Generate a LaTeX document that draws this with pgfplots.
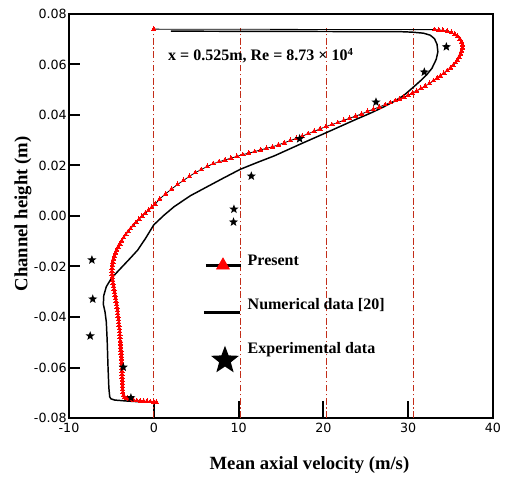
\documentclass[border=0pt]{standalone}
\usepackage{pgfplots}
\pgfplotsset{compat=1.18}
\usepackage{fontspec}
\setmainfont{Liberation Serif}
\newfontfamily\ticksans{DejaVu Sans}
\usetikzlibrary{plotmarks}
\definecolor{gridred}{RGB}{195,45,25}

% filled five-pointed star
\pgfdeclareplotmark{fstar}{%
  \pgfpathmoveto{\pgfpointpolar{90}{\pgfplotmarksize}}%
  \pgfpathlineto{\pgfpointpolar{126}{0.42\pgfplotmarksize}}%
  \pgfpathlineto{\pgfpointpolar{162}{\pgfplotmarksize}}%
  \pgfpathlineto{\pgfpointpolar{198}{0.42\pgfplotmarksize}}%
  \pgfpathlineto{\pgfpointpolar{234}{\pgfplotmarksize}}%
  \pgfpathlineto{\pgfpointpolar{270}{0.42\pgfplotmarksize}}%
  \pgfpathlineto{\pgfpointpolar{306}{\pgfplotmarksize}}%
  \pgfpathlineto{\pgfpointpolar{342}{0.42\pgfplotmarksize}}%
  \pgfpathlineto{\pgfpointpolar{18}{\pgfplotmarksize}}%
  \pgfpathlineto{\pgfpointpolar{54}{0.42\pgfplotmarksize}}%
  \pgfpathclose\pgfusepathqfill}

\begin{document}
\begin{tikzpicture}
\path[use as bounding box] (-51.75pt,-45pt) rectangle (327pt,313.5pt);
\begin{axis}[
  at={(0pt,0pt)}, anchor=south west,
  scale only axis, width=318pt, height=303pt,
  xmin=-10, xmax=40, ymin=-0.08, ymax=0.08,
  scaled x ticks=false, scaled y ticks=false,
  axis line style={line width=1.6pt},
  tick align=inside, xtick pos=bottom, ytick pos=left,
  major tick length=8.25pt,
  tick style={line width=1.5pt, black},
  xtick={-10,0,10,20,30,40},
  xticklabels={-10,0,10,20,30,40},
  extra x ticks={0,10,20,30},
  extra x tick labels={,,,},
  extra tick style={major tick length=12.75pt},
  ytick={-0.08,-0.06,-0.04,-0.02,0,0.02,0.04,0.06,0.08},
  yticklabels={-0.08,-0.06,-0.04,-0.02,0.00,0.02,0.04,0.06,0.08},
  ticklabel style={font=\ticksans\fontsize{9.5}{11}\selectfont},
  yticklabel style={inner xsep=1.5pt},
  xlabel={Mean axial velocity (m/s)},
  ylabel={Channel height (m)},
  label style={font=\bfseries\fontsize{14}{16}\selectfont},
  xlabel style={at={(axis description cs:0.567,-0.1163)}, anchor=center},
  ylabel style={at={(axis description cs:-0.1085,0.505)}, anchor=center},
  clip=false,
  legend cell align=left,
  legend style={
    at={(axis cs:5.8,-0.0147)}, anchor=north west,
    draw=none, fill=none, inner sep=0pt,
    row sep=21pt, column sep=4.5pt,
    font=\bfseries\fontsize{12}{14}\selectfont,
    nodes={inner sep=0pt, text height=9pt, text depth=3pt},
  },
]

% reference velocity lines
\addplot[gridred, line width=0.75pt, dash pattern=on 5pt off 2pt on 1pt off 2pt, forget plot]
  coordinates {(0,-0.08) (0,0.0745)};
\addplot[gridred, line width=0.75pt, dash pattern=on 5pt off 2pt on 1pt off 2pt, forget plot]
  coordinates {(10.2,-0.08) (10.2,0.0745)};
\addplot[gridred, line width=0.75pt, dash pattern=on 5pt off 2pt on 1pt off 2pt, forget plot]
  coordinates {(20.4,-0.08) (20.4,0.0745)};
\addplot[gridred, line width=0.75pt, dash pattern=on 5pt off 2pt on 1pt off 2pt, forget plot]
  coordinates {(30.6,-0.08) (30.6,0.0745)};

% present simulation
\addplot[black, line width=0.6pt, mark=triangle*, mark size=1.9pt,
  mark options={fill=red, draw=red, line width=0pt},
  legend image code/.code={
    \path (0pt,0pt) (27.75pt,0pt);
    \draw[overlay, black, line width=2pt] (1.5pt,-3pt) -- (27.75pt,-3pt);
    \path[overlay] plot[mark=triangle*, mark size=5.5pt, mark options={fill=red, draw=red}] coordinates {(14.25pt,-3pt)};
  }]
coordinates {
(0.30,-0.0737) (0.00,-0.0736) (-0.40,-0.0735) (-0.80,-0.0734) (-1.20,-0.0733)
(-1.60,-0.0732) (-2.00,-0.0731) (-2.40,-0.0729) (-2.80,-0.0726) (-3.15,-0.0722)
(-3.45,-0.0717) (-3.58,-0.0710) (-3.66,-0.0698) (-3.69,-0.0686) (-3.70,-0.0674)
(-3.71,-0.0662) (-3.72,-0.0650) (-3.73,-0.0638) (-3.74,-0.0626) (-3.75,-0.0614)
(-3.76,-0.0602) (-3.77,-0.0590) (-3.79,-0.0578) (-3.81,-0.0566) (-3.83,-0.0554)
(-3.85,-0.0542) (-3.88,-0.0530) (-3.90,-0.0518) (-3.93,-0.0506) (-3.95,-0.0494)
(-3.98,-0.0482) (-4.00,-0.0470) (-4.03,-0.0458) (-4.06,-0.0446) (-4.09,-0.0434)
(-4.13,-0.0422) (-4.17,-0.0410) (-4.21,-0.0398) (-4.25,-0.0386) (-4.29,-0.0374)
(-4.34,-0.0362) (-4.39,-0.0350) (-4.45,-0.0338) (-4.51,-0.0326) (-4.57,-0.0314)
(-4.63,-0.0302) (-4.69,-0.0290) (-4.75,-0.0278) (-4.81,-0.0266) (-4.86,-0.0254)
(-4.90,-0.0242) (-4.93,-0.0230) (-4.94,-0.0218) (-4.92,-0.0206) (-4.88,-0.0194)
(-4.83,-0.0182) (-4.75,-0.0170) (-4.65,-0.0158) (-4.52,-0.0146) (-4.37,-0.0134)
(-4.20,-0.0122) (-4.00,-0.0110) (-3.78,-0.0098) (-3.55,-0.0086) (-3.30,-0.0074)
(-3.03,-0.0062) (-2.74,-0.0050) (-2.43,-0.0038) (-2.10,-0.0026) (-1.76,-0.0014)
(-1.40,-0.0002) (-1.02,0.0010) (-0.64,0.0022) (-0.25,0.0034) (0.15,0.0046)
(0.7,0.0068) (1.4,0.0088) (2.1,0.0107) (2.8,0.0125) (3.5,0.0141)
(4.2,0.0157) (4.9,0.0172) (5.6,0.0184) (6.3,0.0196) (7.0,0.0207)
(7.7,0.0215) (8.4,0.0222) (9.1,0.0229) (9.8,0.0236) (10.5,0.0243)
(11.2,0.0249) (11.9,0.0255) (12.6,0.0262) (13.3,0.0268) (14.0,0.0274)
(14.7,0.0282) (15.4,0.0290) (16.1,0.0299) (16.8,0.0307) (17.5,0.0316)
(18.2,0.0326) (18.9,0.0335) (19.6,0.0345) (20.3,0.0354) (21.0,0.0362)
(21.7,0.0370) (22.4,0.0379) (23.1,0.0387) (23.8,0.0396) (24.5,0.0404)
(25.2,0.0414) (25.9,0.0423) (26.6,0.0432) (27.3,0.0441) (27.9,0.0449)
(28.5,0.0457) (29.0,0.0463) (29.5,0.0470) (30.0,0.0478) (30.5,0.0487)
(31.0,0.0495) (31.5,0.0505) (32.0,0.0515) (32.5,0.0525) (33.0,0.0536)
(33.4,0.0546) (33.8,0.0555) (34.2,0.0565) (34.6,0.0576) (35.0,0.0587)
(35.3,0.0596) (35.6,0.0607) (35.8,0.0618) (36.0,0.0630) (36.2,0.0642)
(36.3,0.0654) (36.4,0.0666) (36.4,0.0678) (36.3,0.0690) (36.1,0.0701)
(35.8,0.0712) (35.5,0.0720) (35.1,0.0727) (34.6,0.0732) (34.1,0.0735)
(33.6,0.0737) (33.1,0.0738) (0.0,0.0740)
};
\addlegendentry{Present}

% numerical data [20]
\addplot[black, line width=1.1pt, no marks,
  legend image code/.code={
    \path (0pt,0pt) (27.75pt,0pt);
    \draw[overlay, black, line width=2pt] (0pt,-5.25pt) -- (27pt,-5.25pt);
  }]
coordinates {
(0.0,-0.0738) (-1.5,-0.0736) (-3.1,-0.0733) (-4.6,-0.0729) (-5.06,-0.0724)
(-5.2,-0.0716) (-5.3,-0.0680) (-5.4,-0.0597) (-5.5,-0.0491) (-5.6,-0.0420)
(-5.75,-0.0380) (-5.95,-0.0350) (-5.9,-0.0315) (-5.6,-0.0280) (-5.06,-0.0250)
(-4.4,-0.0225) (-3.7,-0.0200) (-2.8,-0.0168) (-1.9,-0.0135) (-1.0,-0.0090)
(0.0,-0.0035) (1.2,0.0003) (2.4,0.0037) (4.3,0.0080) (6.3,0.0116)
(8.2,0.0150) (10.2,0.0185) (12.2,0.0212) (14.2,0.0238) (17.3,0.0285)
(20.0,0.0325) (22.0,0.0355) (24.0,0.0385) (25.6,0.0408) (27.1,0.0432)
(28.4,0.0455) (29.5,0.0478) (30.6,0.0510) (31.6,0.0540) (32.2,0.0560)
(32.8,0.0585) (33.3,0.0620) (33.5,0.0650) (33.4,0.0680) (33.1,0.0702)
(32.6,0.0716) (31.8,0.0724) (30.5,0.0728) (29.1,0.0730) (2.0,0.0732)
};
\addlegendentry{Numerical data [20]}

% experimental data
\addplot[only marks, mark=fstar, mark size=3.6pt, mark options={fill=black},
  legend image code/.code={
    \path (0pt,0pt) (27.75pt,0pt);
    \path[overlay] plot[mark=fstar, mark size=11pt, mark options={fill=black}] coordinates {(15.75pt,-8.25pt)};
  }]
coordinates {
(-7.3,-0.0174) (-7.2,-0.0329) (-7.5,-0.0475) (-3.6,-0.0599) (-2.7,-0.0720)
(9.4,-0.0024) (9.45,0.0027) (11.5,0.0158) (17.2,0.0306) (26.2,0.0451)
(31.9,0.0570) (34.5,0.0670)
};
\addlegendentry{Experimental data}

\node[anchor=base west, inner sep=0pt, font=\bfseries\fontsize{12}{14}\selectfont]
  at (axis cs:1.67,0.0614) {x = 0.525m, Re = 8.73 × 10\textsuperscript{4}};
\end{axis}
\end{tikzpicture}
\end{document}
